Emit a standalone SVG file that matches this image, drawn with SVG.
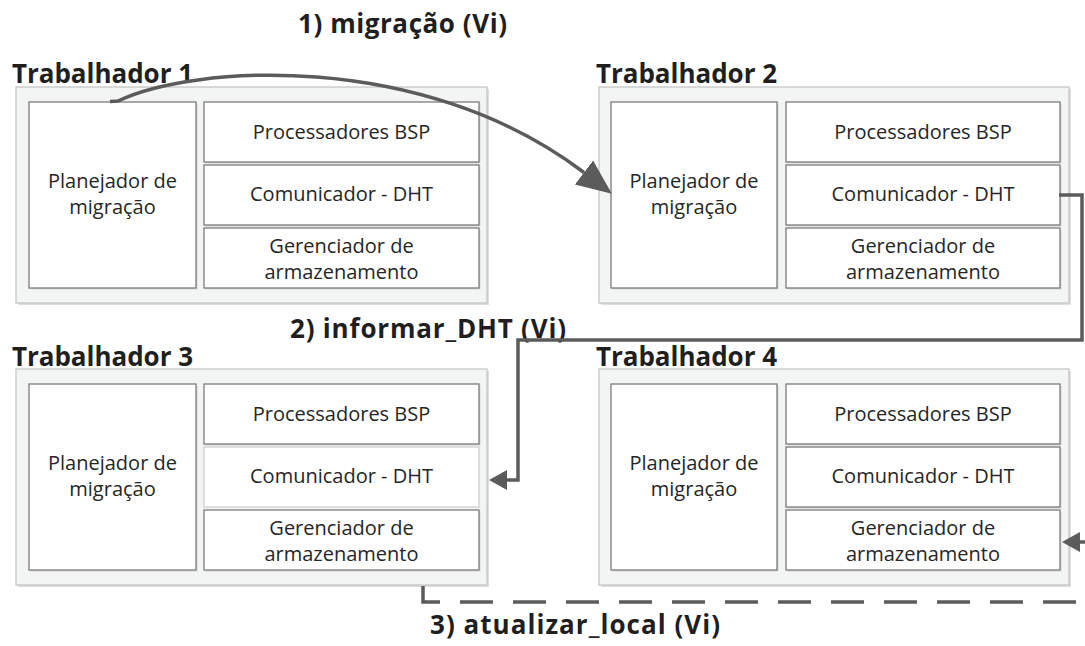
<svg xmlns="http://www.w3.org/2000/svg" width="1085" height="646" viewBox="0 0 1085 646">
<defs>
<style>
.outer{fill:#f3f4f4;stroke:#c2c2c2;stroke-width:1.2}
.oshadow{fill:#dedede}
.inner{fill:#ffffff;stroke:#7c7c7c;stroke-width:1.3}
.ishadow{fill:#d6d6d6}
.light{stroke:#cfcfcf}
.t{font-family:"Open Sans","Liberation Sans",sans-serif;font-size:20px;fill:#262626;text-anchor:middle}
.h{font-family:"Open Sans","Liberation Sans",sans-serif;font-size:26px;font-weight:bold;fill:#1f1f1f}
.con{fill:none;stroke:#5b5b5b;stroke-width:3.5}
.dash{stroke-dasharray:33 20}
</style>
<marker id="bigArrow" markerUnits="userSpaceOnUse" markerWidth="40" markerHeight="34" refX="0" refY="16" orient="auto" viewBox="0 0 40 34">
<path d="M0,1 L35,16 L0,31 z" fill="#5b5b5b"/>
</marker>
<marker id="arrow" markerUnits="userSpaceOnUse" markerWidth="20" markerHeight="22" refX="0" refY="10.5" orient="auto" viewBox="0 0 20 22">
<path d="M0,0.5 L18,10.5 L0,20.5 z" fill="#5b5b5b"/>
</marker>
</defs>
<rect width="1085" height="646" fill="#ffffff"/>

<text class="h" x="298" y="33" textLength="209">1) migração (Vi)</text>
<text class="h" x="290" y="338" textLength="276">2) informar_DHT (Vi)</text>
<text class="h" x="430" y="634" textLength="290">3) atualizar_local (Vi)</text>

<g id="worker1">
<text class="h" x="12" y="83" textLength="181">Trabalhador 1</text>
<rect class="oshadow" x="18" y="89" width="471" height="216"/>
<rect class="outer" x="16" y="87" width="471" height="216"/>
<rect class="ishadow" x="30.5" y="103.5" width="167" height="186"/>
<rect class="inner" x="29" y="102" width="167" height="186"/>
<rect class="ishadow" x="205.5" y="103.5" width="275" height="60"/>
<rect class="inner" x="204" y="102" width="275" height="60"/>
<rect class="ishadow" x="205.5" y="166.5" width="275" height="60"/>
<rect class="inner" x="204" y="165" width="275" height="60"/>
<rect class="ishadow" x="205.5" y="229.5" width="275" height="60"/>
<rect class="inner" x="204" y="228" width="275" height="60"/>
<text class="t" x="112.5" y="188">Planejador de</text>
<text class="t" x="112.5" y="214">migração</text>
<text class="t" x="341.5" y="139">Processadores BSP</text>
<text class="t" x="341.5" y="201">Comunicador - DHT</text>
<text class="t" x="341.5" y="253">Gerenciador de</text>
<text class="t" x="341.5" y="279">armazenamento</text>
</g>

<g id="worker2">
<text class="h" x="596" y="83" textLength="181">Trabalhador 2</text>
<rect class="oshadow" x="601" y="89" width="470" height="216"/>
<rect class="outer" x="599" y="87" width="470" height="216"/>
<rect class="ishadow" x="612.5" y="103.5" width="166" height="186"/>
<rect class="inner" x="611" y="102" width="166" height="186"/>
<rect class="ishadow" x="787.5" y="103.5" width="274" height="60"/>
<rect class="inner" x="786" y="102" width="274" height="60"/>
<rect class="ishadow" x="787.5" y="166.5" width="274" height="60"/>
<rect class="inner" x="786" y="165" width="274" height="60"/>
<rect class="ishadow" x="787.5" y="229.5" width="274" height="60"/>
<rect class="inner" x="786" y="228" width="274" height="60"/>
<text class="t" x="694" y="188">Planejador de</text>
<text class="t" x="694" y="214">migração</text>
<text class="t" x="923" y="139">Processadores BSP</text>
<text class="t" x="923" y="201">Comunicador - DHT</text>
<text class="t" x="923" y="253">Gerenciador de</text>
<text class="t" x="923" y="279">armazenamento</text>
</g>

<g id="worker3">
<text class="h" x="12" y="366" textLength="181">Trabalhador 3</text>
<rect class="oshadow" x="18" y="371" width="471" height="216"/>
<rect class="outer" x="16" y="369" width="471" height="216"/>
<rect class="ishadow" x="30.5" y="385.5" width="167" height="186"/>
<rect class="inner" x="29" y="384" width="167" height="186"/>
<rect class="ishadow" x="205.5" y="385.5" width="275" height="60"/>
<rect class="inner" x="204" y="384" width="275" height="60"/>
<rect class="inner light" x="204" y="447" width="275" height="60"/>
<rect class="ishadow" x="205.5" y="511.5" width="275" height="60"/>
<rect class="inner" x="204" y="510" width="275" height="60"/>
<text class="t" x="112.5" y="470">Planejador de</text>
<text class="t" x="112.5" y="496">migração</text>
<text class="t" x="341.5" y="421">Processadores BSP</text>
<text class="t" x="341.5" y="483">Comunicador - DHT</text>
<text class="t" x="341.5" y="535">Gerenciador de</text>
<text class="t" x="341.5" y="561">armazenamento</text>
</g>

<g id="worker4">
<text class="h" x="596" y="366" textLength="181">Trabalhador 4</text>
<rect class="oshadow" x="601" y="371" width="470" height="216"/>
<rect class="outer" x="599" y="369" width="470" height="216"/>
<rect class="ishadow" x="612.5" y="385.5" width="166" height="186"/>
<rect class="inner" x="611" y="384" width="166" height="186"/>
<rect class="ishadow" x="787.5" y="385.5" width="274" height="60"/>
<rect class="inner" x="786" y="384" width="274" height="60"/>
<rect class="ishadow" x="787.5" y="448.5" width="274" height="60"/>
<rect class="inner" x="786" y="447" width="274" height="60"/>
<rect class="ishadow" x="787.5" y="511.5" width="274" height="60"/>
<rect class="inner" x="786" y="510" width="274" height="60"/>
<text class="t" x="694" y="470">Planejador de</text>
<text class="t" x="694" y="496">migração</text>
<text class="t" x="923" y="421">Processadores BSP</text>
<text class="t" x="923" y="483">Comunicador - DHT</text>
<text class="t" x="923" y="535">Gerenciador de</text>
<text class="t" x="923" y="561">armazenamento</text>
</g>

<g id="connectors">
<path class="con" d="M110,101.5 L118,101 C190,66 420,48 584,172.5" marker-end="url(#bigArrow)"/>
<path class="con" d="M1059,195 H1082 V340 H518 V480 H507" marker-end="url(#arrow)"/>
<path class="con dash" d="M423,586 V602 H1100"/>
<path class="con" d="M1092,542 H1080" marker-end="url(#arrow)"/>
</g>
</svg>
